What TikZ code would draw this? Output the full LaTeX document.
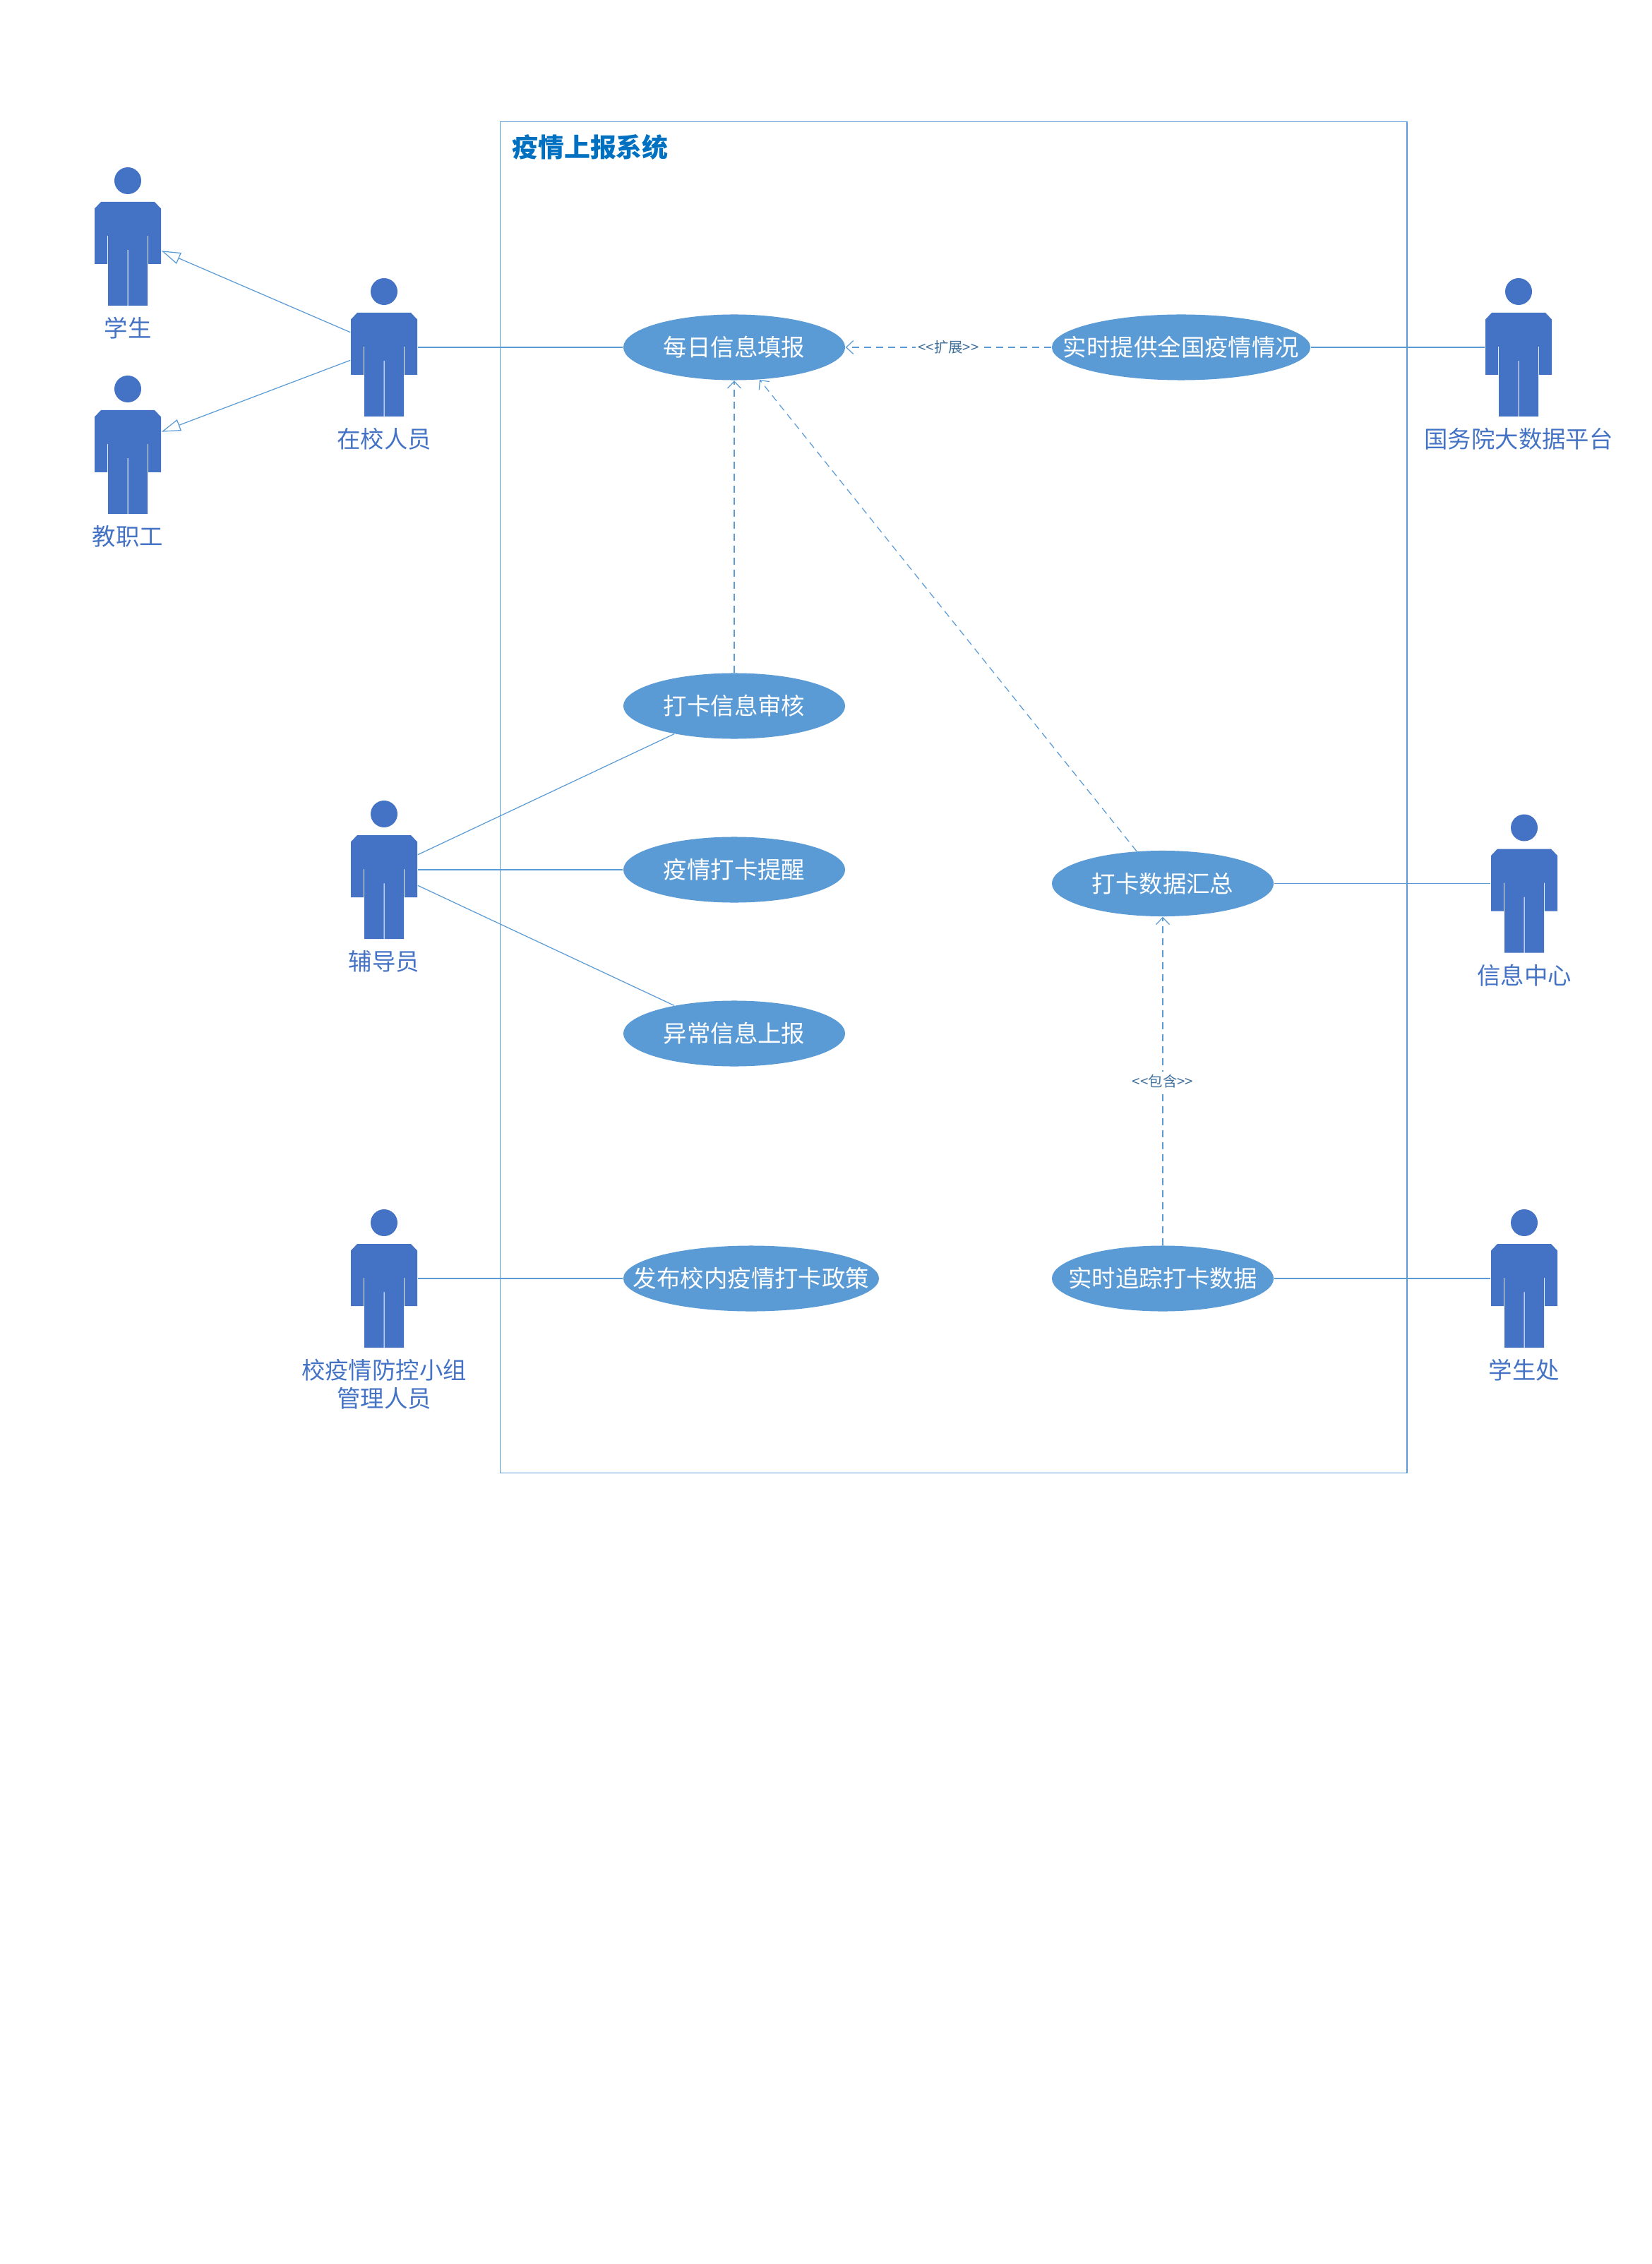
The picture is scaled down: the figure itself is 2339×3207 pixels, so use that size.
\documentclass[tikz,border=0pt]{standalone}
\usepackage{fontspec}
\setmainfont{Noto Sans CJK SC}
\newfontfamily\notefont{Noto Sans CJK SC}
\usetikzlibrary{arrows.meta,positioning,shapes.geometric}

\definecolor{actorblue}{HTML}{4472C4}
\definecolor{caseblue}{HTML}{5B9BD5}
\definecolor{noteblue}{HTML}{41719C}
\definecolor{titleblue}{HTML}{0070C0}

\tikzset{
  actorbox/.style={minimum width=0.94cm, minimum height=1.96cm, inner sep=0pt},
  actorlabel/.style={text=actorblue, font=\fontsize{9.5}{11.3}\selectfont, align=center, inner sep=0pt},
  casenode/.style={ellipse, fill=caseblue, text=white, minimum height=0.93cm, inner sep=0pt,
    font=\fontsize{9.5}{11.3}\selectfont},
  assoc/.style={caseblue, line width=0.35pt},
  gener/.style={assoc, -{Triangle[open, length=2.7mm, width=1.7mm]}},
  depend/.style={assoc, dash pattern=on 1mm off 0.7mm, -{Straight Barb[length=1mm, width=1.9mm]}},
  stereo/.style={fill=white, text=noteblue, inner sep=1pt, font=\notefont\fontsize{5.8}{7}\selectfont}
}

% #1 name, #2 x, #3 y, #4 label
\newcommand{\actor}[4]{
  \node[actorbox] (#1) at (#2,#3) {};
  \begin{scope}[shift={(#2,#3)}]
    \fill[actorblue] (0,-79) circle (19);
    \fill[actorblue] (-38,-49) -- (38,-49) -- (47,-39.5) -- (47,39) -- (29,39) -- (29,-1)
      -- (28,-1) -- (28,98) -- (0.5,98) -- (0.5,19) -- (-0.5,19) -- (-0.5,98) -- (-28,98)
      -- (-28,-1) -- (-29,-1) -- (-29,39) -- (-47,39) -- (-47,-39.5) -- cycle;
  \end{scope}
  \node[actorlabel, below=0.15cm of #1] (#1label) {#4};
}

% #1 name, #2 x, #3 y, #4 width, #5 text
\newcommand{\usecase}[5]{
  \node[casenode, minimum width=#4cm] (#1) at (#2,#3) {\makebox[0pt]{\raisebox{-0.4mm}{#5}}};
}

\begin{document}
\begin{tikzpicture}[x=0.01cm, y=-0.01cm]
  \useasboundingbox (0,0) rectangle (2339,3207);

  % System frame
  \node[draw=caseblue, line width=0.35pt, minimum width=12.84cm, minimum height=19.13cm, inner sep=0pt]
    (frame) at (1350.5,1129.5) {};
  \node[text=titleblue, font=\fontsize{10.5}{12}\selectfont\bfseries, inner sep=0pt,
    below right=0.18cm and 0.17cm of frame.north west] (title) {疫情上报系统};

  % Actors on the left
  \actor{student}{181}{335}{学生}
  \actor{staff}{181}{630}{教职工}
  \actor{member}{544}{492}{在校人员}
  \actor{tutor}{544}{1232}{辅导员}
  \actor{manager}{544}{1811}{校疫情防控小组\\管理人员}

  % Actors on the right
  \actor{platform}{2151}{492}{国务院大数据平台}
  \actor{center}{2159}{1251.5}{信息中心}
  \actor{office}{2159}{1811}{学生处}

  % Use cases
  \usecase{daily}{1040}{492}{3.14}{每日信息填报}
  \usecase{provide}{1673}{492}{3.66}{实时提供全国疫情情况}
  \usecase{review}{1040}{1000}{3.14}{打卡信息审核}
  \usecase{remind}{1040}{1232}{3.14}{疫情打卡提醒}
  \usecase{report}{1040}{1464}{3.14}{异常信息上报}
  \usecase{summary}{1647}{1251.5}{3.14}{打卡数据汇总}
  \usecase{policy}{1064}{1811}{3.62}{发布校内疫情打卡政策}
  \usecase{track}{1647}{1811}{3.14}{实时追踪打卡数据}

  % Generalization
  \draw[gener] (member.156) -- (student.-23);
  \draw[gener] (member.201) -- (staff.21);

  % Associations
  \draw[assoc] (member.east) -- (daily.west);
  \draw[assoc] (provide.east) -- (platform.west);
  \draw[assoc] (tutor.24) -- (review.205);
  \draw[assoc] (tutor.east) -- (remind.west);
  \draw[assoc] (tutor.-25) -- (report.155);
  \draw[assoc] (summary.east) -- (center.west);
  \draw[assoc] (manager.east) -- (policy.west);
  \draw[assoc] (track.east) -- (office.west);

  % Dependencies
  \draw[depend] (provide.west) -- node[stereo, pos=0.5] (extendnote) {<<扩展>>} (daily.east);
  \draw[depend] (review.north) -- (daily.south);
  \draw[depend] (summary.129) -- (daily.-52);
  \draw[depend] (track.north) -- node[stereo, pos=0.5] (includenote) {<<包含>>} (summary.south);
\end{tikzpicture}
\end{document}
